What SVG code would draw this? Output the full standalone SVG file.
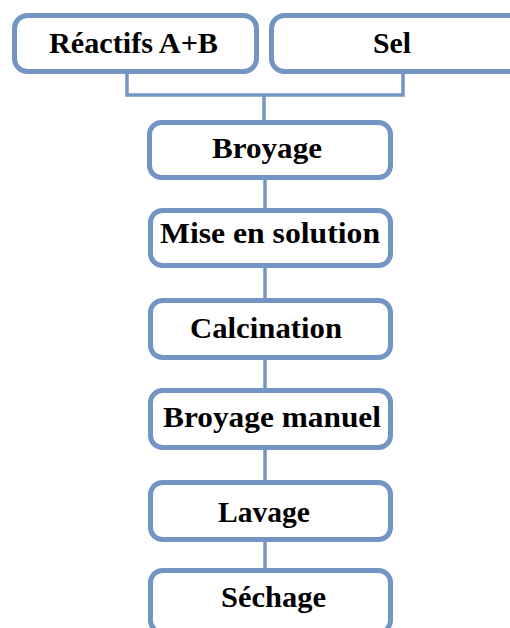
<svg xmlns="http://www.w3.org/2000/svg" width="510" height="628" viewBox="0 0 510 628">
<style>
.box{fill:#fff;stroke:#7295c3;stroke-width:5}
.ln{fill:none;stroke:#7295c3;stroke-width:3.5}
text{font-family:"Liberation Serif","Times New Roman",serif;font-weight:bold;font-size:29px;fill:#000;text-anchor:middle}
</style>
<rect width="510" height="628" fill="#fff"/>
<g id="connectors">
<polyline class="ln" points="127,72 127,95 403,95 403,72"/>
<line class="ln" x1="264" y1="95" x2="264" y2="122"/>
<line class="ln" x1="265" y1="178" x2="265" y2="210"/>
<line class="ln" x1="265" y1="266" x2="265" y2="300"/>
<line class="ln" x1="265" y1="358" x2="265" y2="390"/>
<line class="ln" x1="265" y1="448" x2="265" y2="482"/>
<line class="ln" x1="265" y1="540" x2="265" y2="570"/>
</g>
<g id="reactifs"><rect class="box" x="14.5" y="15.5" width="242" height="56" rx="13"/><text x="133.5" y="53" textLength="169" lengthAdjust="spacingAndGlyphs">Réactifs A+B</text></g>
<g id="sel"><rect class="box" x="271.5" y="15.5" width="250" height="56" rx="13"/><text x="392" y="53" textLength="38" lengthAdjust="spacingAndGlyphs">Sel</text></g>
<g id="broyage"><rect class="box" x="149.5" y="122.5" width="241" height="55" rx="12"/><text x="267" y="158" textLength="110" lengthAdjust="spacingAndGlyphs">Broyage</text></g>
<g id="mise"><rect class="box" x="150.5" y="210.5" width="240" height="55" rx="12"/><text x="270" y="243" textLength="220" lengthAdjust="spacingAndGlyphs">Mise en solution</text></g>
<g id="calcination"><rect class="box" x="150.5" y="300.5" width="240" height="57" rx="12"/><text x="266" y="338" textLength="152" lengthAdjust="spacingAndGlyphs">Calcination</text></g>
<g id="broyage-manuel"><rect class="box" x="150.5" y="390.5" width="240" height="57" rx="12"/><text x="272" y="427" textLength="218" lengthAdjust="spacingAndGlyphs">Broyage manuel</text></g>
<g id="lavage"><rect class="box" x="150.5" y="482.5" width="240" height="57" rx="12"/><text x="264" y="522" textLength="92" lengthAdjust="spacingAndGlyphs">Lavage</text></g>
<g id="sechage"><rect class="box" x="150.5" y="570.5" width="240" height="62" rx="12"/><text x="273.5" y="607" textLength="105" lengthAdjust="spacingAndGlyphs">Séchage</text></g>
</svg>
